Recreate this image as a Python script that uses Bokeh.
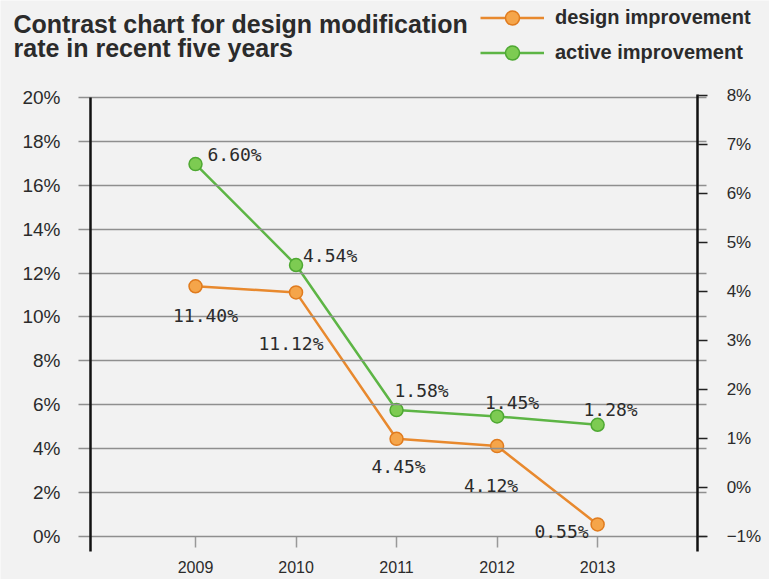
from bokeh.plotting import figure
from bokeh.models import (Range1d, LinearAxis, FixedTicker, Label, LabelSet,
                          ColumnDataSource, Legend, LegendItem)
from bokeh.core.properties import value
from bokeh.embed import file_html
from bokeh.resources import INLINE

# ---- data ----
years = [2009, 2010, 2011, 2012, 2013]
year_labels = ["2009", "2010", "2011", "2012", "2013"]
design = [11.40, 11.12, 4.45, 4.12, 0.55]        # left axis (%)
active = [6.60, 4.54, 1.58, 1.45, 1.28]          # right axis (%)
design_text = ["11.40%", "11.12%", "4.45%", "4.12%", "0.55%"]
active_text = ["6.60%", "4.54%", "1.58%", "1.45%", "1.28%"]
left_ticks = [0, 2, 4, 6, 8, 10, 12, 14, 16, 18, 20]
left_tick_labels = ["0%", "2%", "4%", "6%", "8%", "10%", "12%", "14%", "16%", "18%", "20%"]
right_ticks = [-1, 0, 1, 2, 3, 4, 5, 6, 7, 8]
right_tick_labels = ["\u22121%", "0%", "1%", "2%", "3%", "4%", "5%", "6%", "7%", "8%"]

# ---- label placement (styling, screen px) ----
design_dx = [10, -5, 2, -6, -9]
design_dy = [-29, -51, -28, -39, -7]
design_align = ["center", "center", "center", "center", "right"]
active_dx = [12, 7, 25, 15, 13]
active_dy = [10, 10, 20, 14, 15]
active_align = ["left", "left", "center", "center", "center"]

BG = "#f2f2f2"
ORANGE_LINE = "#e8892e"
ORANGE_FILL = "#f5a54a"
ORANGE_EDGE = "#e07b1e"
GREEN_LINE = "#5db545"
GREEN_FILL = "#7dcb52"
GREEN_EDGE = "#4ea832"
TEXT = "#2b2b2b"
FONT = "Liberation Sans"

W, H = 769, 579
p = figure(width=W, height=H, output_backend="svg", toolbar_location=None,
           x_range=Range1d(2007.06, 2014.71), y_range=Range1d(-1.959, 24.419),
           background_fill_color=BG, border_fill_color=BG)
p.min_border = 0
p.title.visible = False
p.outline_line_color = None
p.extra_y_ranges = {"right": Range1d(-1.878, 9.939)}
p.xgrid.visible = False
p.ygrid.visible = False

# left axis: labels + horizontal guide lines (long inward ticks)
ly = p.yaxis[0]
ly.fixed_location = 2007.836
ly.ticker = FixedTicker(ticks=left_ticks)
ly.major_label_overrides = {t: s for t, s in zip(left_ticks, left_tick_labels)}
ly.axis_line_color = None
ly.major_tick_in = 628
ly.major_tick_out = 0
ly.major_tick_line_color = "#8f8f8f"
ly.major_tick_line_width = 1.6
ly.minor_tick_line_color = None
ly.major_label_standoff = 18
ly.major_label_text_font = FONT
ly.major_label_text_font_size = "19px"
ly.major_label_text_color = TEXT

# left axis line
ll = LinearAxis(fixed_location=2007.955, bounds=(-0.683, 20))
ll.ticker = FixedTicker(ticks=left_ticks)
ll.axis_line_color = "#111111"
ll.axis_line_width = 2.5
ll.major_tick_line_color = None
ll.minor_tick_line_color = None
ll.major_label_text_color = None
p.add_layout(ll, "left")

# right axis
ry = LinearAxis(y_range_name="right", fixed_location=2013.995, bounds=(-1.306, 8.02))
ry.ticker = FixedTicker(ticks=right_ticks)
ry.major_label_overrides = {t: s for t, s in zip(right_ticks, right_tick_labels)}
ry.axis_line_color = "#111111"
ry.axis_line_width = 2.5
ry.major_tick_in = 0
ry.major_tick_out = 10
ry.major_tick_line_color = "#222222"
ry.major_tick_line_width = 1.5
ry.minor_tick_line_color = None
ry.major_label_standoff = 19
ry.major_label_text_font = FONT
ry.major_label_text_font_size = "17px"
ry.major_label_text_color = TEXT
p.add_layout(ry, "right")

# x axis
xa = p.xaxis[0]
xa.fixed_location = 0
xa.ticker = FixedTicker(ticks=years)
xa.major_label_overrides = {y: s for y, s in zip(years, year_labels)}
xa.axis_line_color = None
xa.major_tick_in = 0
xa.major_tick_out = 11
xa.major_tick_line_color = "#999999"
xa.major_tick_line_width = 1.5
xa.minor_tick_line_color = None
xa.major_label_standoff = 14
xa.major_label_text_font = FONT
xa.major_label_text_font_size = "16px"
xa.major_label_text_color = TEXT

# series
dsrc = ColumnDataSource(dict(x=years, y=design, t=design_text, dx=design_dx, dy=design_dy, al=design_align))
asrc = ColumnDataSource(dict(x=years, y=active, t=active_text, dx=active_dx, dy=active_dy, al=active_align))

dl = p.line("x", "y", source=dsrc, line_color=ORANGE_LINE, line_width=2.5)
ds = p.scatter("x", "y", source=dsrc, size=13, fill_color=ORANGE_FILL, line_color=ORANGE_EDGE, line_width=1.5)
al = p.line("x", "y", source=asrc, line_color=GREEN_LINE, line_width=2.5, y_range_name="right")
as_ = p.scatter("x", "y", source=asrc, size=13, fill_color=GREEN_FILL, line_color=GREEN_EDGE, line_width=1.5,
                y_range_name="right")

p.add_layout(LabelSet(x="x", y="y", text="t", source=dsrc, x_offset="dx", y_offset="dy", text_align="al",
                      text_baseline="middle", text_font=value("DejaVu Sans Mono"), text_font_size="18px",
                      text_color=TEXT))
p.add_layout(LabelSet(x="x", y="y", text="t", source=asrc, x_offset="dx", y_offset="dy", text_align="al",
                      text_baseline="middle", text_font=value("DejaVu Sans Mono"), text_font_size="18px",
                      text_color=TEXT, y_range_name="right"))

# title (two lines), screen units from frame bottom-left
for txt, yy in [("Contrast chart for design modification", H - 23), ("rate in recent five years", H - 47)]:
    p.add_layout(Label(x=13, y=yy, x_units="screen", y_units="screen", text=txt,
                       text_font=FONT, text_font_style="bold", text_font_size="25px",
                       text_color=TEXT, text_baseline="middle"))

legend = Legend(items=[LegendItem(label="design improvement", renderers=[dl, ds]),
                       LegendItem(label="active improvement", renderers=[al, as_])],
                location=(480, H - 70), orientation="vertical",
                glyph_width=64, glyph_height=35, label_height=35, spacing=0, label_standoff=11,
                padding=0, margin=0, background_fill_alpha=0, border_line_color=None,
                label_text_font=FONT, label_text_font_style="bold", label_text_font_size="20px",
                label_text_color=TEXT)
p.add_layout(legend, "center")

open("out.html", "w").write(file_html(p, INLINE))
